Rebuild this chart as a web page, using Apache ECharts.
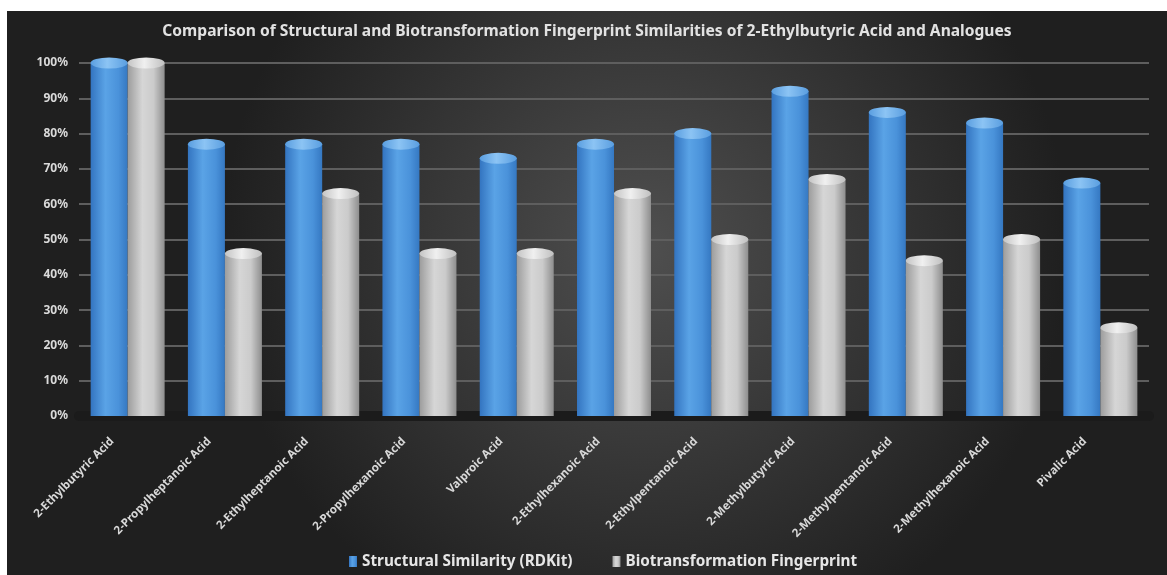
<!DOCTYPE html>
<html>
<head>
<meta charset="utf-8">
<script src="https://cdn.jsdelivr.net/npm/echarts@6/dist/echarts.min.js"></script>
<style>
  html, body { margin: 0; padding: 0; background: #fff; }
  #chart { position: absolute; left: 7px; top: 11px; width: 1160px; height: 564px; }
</style>
</head>
<body>
<div id="chart"></div>
<script>
// data
const categories = [
  "2-Ethylbutyric Acid", "2-Propylheptanoic Acid", "2-Ethylheptanoic Acid",
  "2-Propylhexanoic Acid", "Valproic Acid", "2-Ethylhexanoic Acid",
  "2-Ethylpentanoic Acid", "2-Methylbutyric Acid", "2-Methylpentanoic Acid",
  "2-Methylhexanoic Acid", "Pivalic Acid"
];
const structural = [100, 77, 77, 77, 73, 77, 80, 92, 86, 83, 66];
const biotransformation = [100, 46, 63, 46, 46, 63, 50, 67, 44, 50, 25];
const seriesNames = ["Structural Similarity (RDKit)", "Biotransformation Fingerprint"];

const chart = echarts.init(document.getElementById("chart"));

// horizontal gradients to fake a cylinder
const blueBody = new echarts.graphic.LinearGradient(0, 0, 1, 0, [
  { offset: 0, color: "#3374c0" },
  { offset: 0.4, color: "#5aa3e6" },
  { offset: 0.75, color: "#4a92da" },
  { offset: 1, color: "#3578c2" }
]);
const grayBody = new echarts.graphic.LinearGradient(0, 0, 1, 0, [
  { offset: 0, color: "#9c9c9c" },
  { offset: 0.4, color: "#d6d6d6" },
  { offset: 0.7, color: "#cbcbcb" },
  { offset: 1, color: "#8e8e8e" }
]);
const blueTop = new echarts.graphic.LinearGradient(0, 0, 1, 0, [
  { offset: 0, color: "#5a9ee0" },
  { offset: 0.45, color: "#8cc4f4" },
  { offset: 1, color: "#5a9ee0" }
]);
const grayTop = new echarts.graphic.LinearGradient(0, 0, 1, 0, [
  { offset: 0, color: "#c4c4c4" },
  { offset: 0.45, color: "#f0f0f0" },
  { offset: 1, color: "#c0c0c0" }
]);

const BAR_W = 37;
const font = "Noto Sans";

const option = {
  backgroundColor: new echarts.graphic.RadialGradient(0.55, 0.42, 0.75, [
    { offset: 0, color: "#4f4f4f" },
    { offset: 1, color: "#1f1f1f" }
  ]),
  title: {
    text: "Comparison of Structural and Biotransformation Fingerprint Similarities of 2-Ethylbutyric Acid and Analogues",
    left: "center",
    top: 8,
    textStyle: { color: "#e2e2e2", fontFamily: font, fontWeight: "bold", fontSize: 15.6 }
  },
  legend: {
    data: seriesNames,
    bottom: 1,
    left: 337,
    itemWidth: 8,
    itemHeight: 11,
    itemGap: 40,
    icon: "rect",
    textStyle: { color: "#e6e6e6", fontFamily: font, fontWeight: "bold", fontSize: 15.3 }
  },
  grid: { left: 72, right: 18, top: 52, bottom: 159, containLabel: false },
  xAxis: {
    type: "category",
    data: categories,
    axisLine: { lineStyle: { color: "#1b1b1b", width: 10 } },
    axisTick: { show: false },
    axisLabel: {
      rotate: 45,
      interval: 0,
      margin: 8,
      padding: [0, 22, 0, 0],
      color: "#d8d8d8",
      fontFamily: font,
      fontWeight: "bold",
      fontSize: 11.5
    }
  },
  yAxis: {
    type: "value",
    min: 0,
    max: 100,
    interval: 10,
    axisLine: { show: false },
    axisTick: { show: false },
    axisLabel: {
      formatter: "{value}%",
      margin: 11,
      color: "#dadada",
      fontFamily: font,
      fontWeight: "bold",
      fontSize: 12
    },
    splitLine: { lineStyle: { color: "#5e5e5e", width: 2 } }
  },
  series: [
    {
      name: seriesNames[0],
      type: "bar",
      data: structural,
      barWidth: BAR_W,
      barGap: "0%",
      itemStyle: { color: blueBody },
      z: 2
    },
    {
      name: seriesNames[1],
      type: "bar",
      data: biotransformation,
      barWidth: BAR_W,
      barGap: "0%",
      itemStyle: { color: grayBody },
      z: 2
    },
    {
      name: "topA",
      type: "pictorialBar",
      data: structural,
      symbol: "circle",
      symbolSize: [BAR_W, 11],
      symbolPosition: "end",
      symbolOffset: [0, "-50%"],
      barWidth: BAR_W,
      barGap: "0%",
      itemStyle: { color: blueTop },
      z: 3,
      silent: true
    },
    {
      name: "topB",
      type: "pictorialBar",
      data: biotransformation,
      symbol: "circle",
      symbolSize: [BAR_W, 11],
      symbolPosition: "end",
      symbolOffset: [0, "-50%"],
      barWidth: BAR_W,
      barGap: "0%",
      itemStyle: { color: grayTop },
      z: 3,
      silent: true
    }
  ]
};

chart.setOption(option);
</script>
</body>
</html>
